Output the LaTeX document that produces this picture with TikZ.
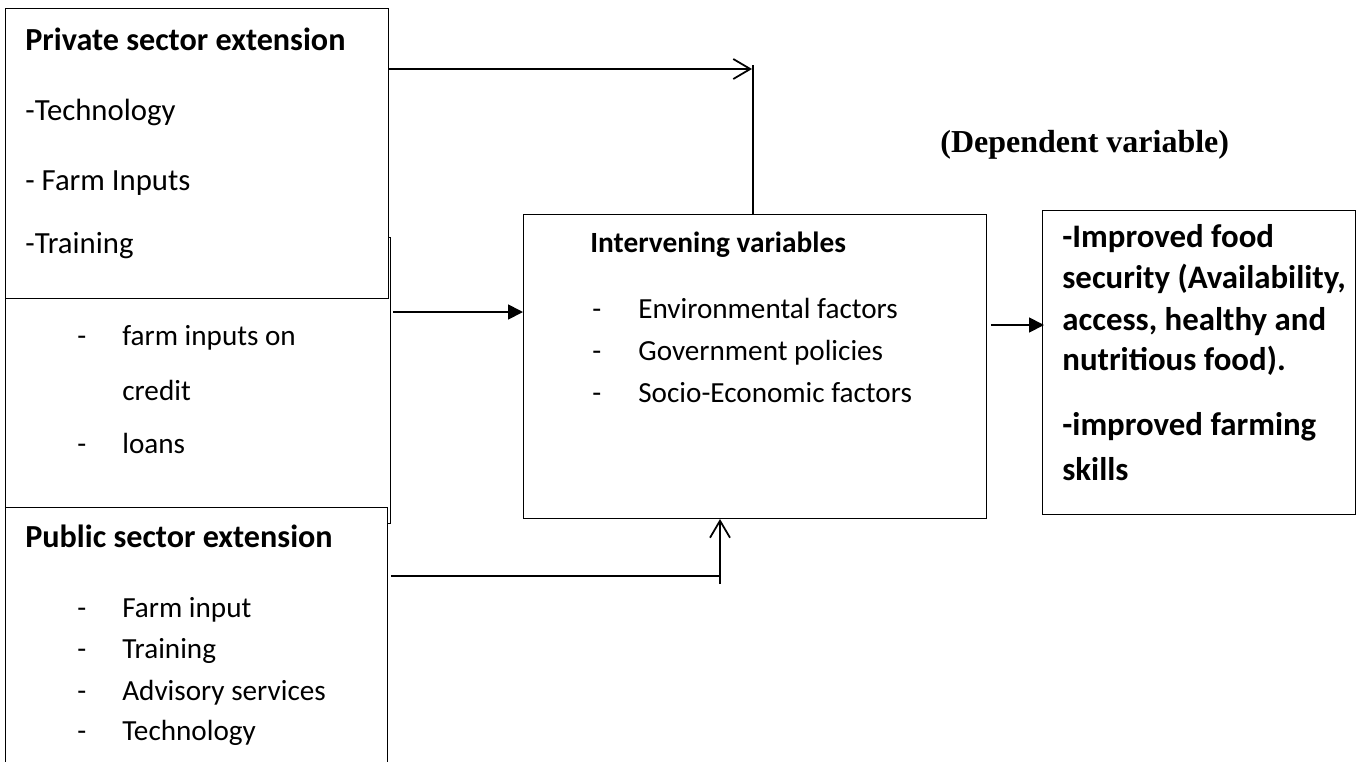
\documentclass[tikz,border=0pt]{standalone}
\usepackage{fontspec}
\setmainfont{Carlito}
\newfontfamily\timesfont{Liberation Serif}
\usetikzlibrary{arrows.meta,positioning}

\tikzset{
    box/.style={draw, fill=white, line width=0.6pt, inner sep=0pt, anchor=north west},
    txt/.style={anchor=base west, inner sep=0pt, font=\fontsize{17.5}{21}\selectfont},
    smalltxt/.style={anchor=base west, inner sep=0pt, font=\fontsize{16.6}{20}\selectfont},
    bftxt/.style={anchor=base west, inner sep=0pt, font=\fontsize{18.3}{22}\selectfont\bfseries},
    smallbf/.style={anchor=base west, inner sep=0pt, font=\fontsize{16.7}{20}\selectfont\bfseries},
    depbf/.style={anchor=base west, inner sep=0pt, font=\fontsize{18.7}{22}\selectfont\bfseries},
    flow/.style={line width=1pt},
    barb/.style={-{Straight Barb[length=0.34cm, width=0.4cm]}},
    tri/.style={-{Triangle[length=0.3cm, width=0.3cm]}},
}

\begin{document}
\begin{tikzpicture}[x=0.02cm, y=-0.02cm]
    \useasboundingbox (0,0) rectangle (1361,761);
    \clip (0,0) rectangle (1361,761);

    \node[box, minimum width=7.70cm, minimum height=5.72cm] (credit) at (5,237) {};
    \node[box, minimum width=7.66cm, minimum height=5.80cm] (pvt) at (5,8) {};
    \node[box, minimum width=7.64cm, minimum height=5.40cm] (pub) at (5,507) {};
    \node[box, minimum width=9.26cm, minimum height=6.08cm] (inter) at (523,214) {};
    \node[box, minimum width=6.26cm, minimum height=6.08cm] (dep) at (1042,210) {};

    \node[bftxt] (pvttitle) at (25,50) {Private sector extension};
    \node[txt] (pvttech) at (25,120) {-Technology};
    \node[txt] (pvtinput) at (25,190) {- Farm Inputs};
    \node[txt] (pvttrain) at (25,253) {-Training};

    \node[smalltxt] (creditdasha) at (77,345) {-};
    \node[smalltxt] (creditinput) at (122,345) {farm inputs on};
    \node[smalltxt] (creditcredit) at (122,400) {credit};
    \node[smalltxt] (creditdashb) at (77,453) {-};
    \node[smalltxt] (creditloans) at (122,453) {loans};

    \node[bftxt] (pubtitle) at (25,547) {Public sector extension};
    \node[smalltxt] (pubdasha) at (77,617) {-};
    \node[smalltxt] (pubinput) at (122,617) {Farm input};
    \node[smalltxt] (pubdashb) at (77,658) {-};
    \node[smalltxt] (pubtrain) at (122,658) {Training};
    \node[smalltxt] (pubdashc) at (77,700) {-};
    \node[smalltxt] (pubadvice) at (122,700) {Advisory services};
    \node[smalltxt] (pubdashd) at (77,740) {-};
    \node[smalltxt] (pubtech) at (122,740) {Technology};

    \node[smallbf] (intertitle) at (590,252) {Intervening variables};
    \node[smalltxt] (interdasha) at (592,318) {-};
    \node[smalltxt] (interenv) at (638,318) {Environmental factors};
    \node[smalltxt] (interdashb) at (592,360) {-};
    \node[smalltxt] (intergov) at (638,360) {Government policies};
    \node[smalltxt] (interdashc) at (592,402) {-};
    \node[smalltxt] (intersocio) at (638,402) {Socio-Economic factors};

    \node[anchor=base west, inner sep=0pt, font=\timesfont\bfseries\fontsize{18.2}{22}\selectfont]
        (deplabel) at (940,152) {(Dependent variable)};
    \node[depbf] (depfood) at (1062,247) {-Improved food};
    \node[depbf] (depsec) at (1062,288) {security (Availability,};
    \node[depbf] (depacc) at (1062,330) {access, healthy and};
    \node[depbf] (depnut) at (1062,370) {nutritious food).};
    \node[depbf] (depfarm) at (1062,435) {-improved farming};
    \node[depbf] (depskill) at (1062,480) {skills};

    \coordinate (toptip) at (752,69);
    \coordinate (toptop) at (753,65);
    \coordinate (credout) at (393,312);
    \coordinate (pubbend) at (720,576);
    \coordinate (pubfoot) at (720,584);
    \coordinate (depin) at (1044,325);

    \draw[flow, barb] (pvt.east |- toptip) -- (toptip);
    \draw[flow] (toptop) -- (toptop |- inter.north);
    \draw[flow, tri] (credout) -- (credout -| inter.west);
    \draw[flow] ([xshift=0.06cm]pub.east |- pubbend) -- (pubbend);
    \draw[flow, barb] (pubfoot) -- (pubfoot |- inter.south);
    \draw[flow, tri] ([xshift=0.08cm]inter.east |- depin) -- (depin);
\end{tikzpicture}
\end{document}
